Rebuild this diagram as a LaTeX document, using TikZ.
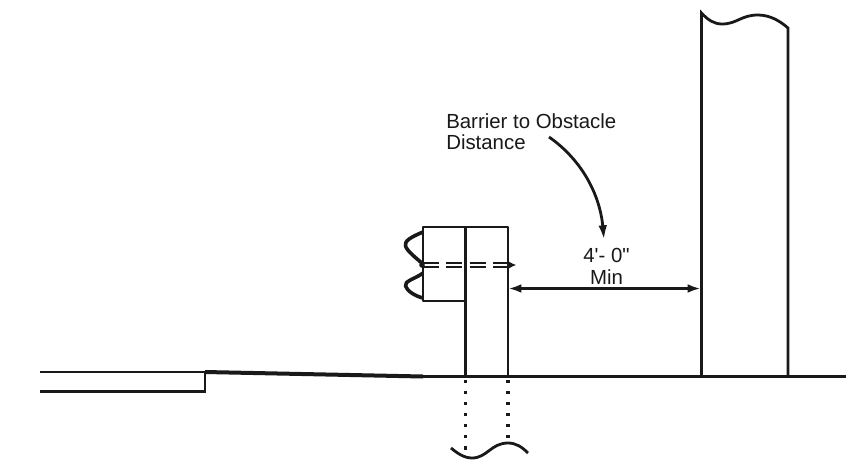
\documentclass[tikz,border=0pt]{standalone}
\usepackage{fontspec}
\newfontfamily\labelfont{Liberation Sans}
\usetikzlibrary{arrows.meta}
\begin{document}
\begin{tikzpicture}[x=0.75pt,y=-0.75pt]
\tikzstyle{line}=[line width=2.1pt,black!90]
\tikzstyle{bumpline}=[line width=2.7pt,black!90,line join=round]
\tikzstyle{slab}=[line width=3pt,black!90]
\tikzstyle{dashpair}=[line width=1.1pt,black!90,dash pattern=on 12pt off 5.5pt]
\tikzstyle{dots}=[line width=2.4pt,black!90,dash pattern=on 2.4pt off 5.96pt]
\tikzstyle{dimen}=[line width=2.1pt,black!90,{Latex[length=10pt,width=6.5pt]}-{Latex[length=10pt,width=6.5pt]}]
\tikzstyle{label}=[inner sep=0pt,font=\labelfont\fontsize{15.3}{16}\selectfont,black!90]
\useasboundingbox (0,0) rectangle (862,468);
\fill[white] (0,0) rectangle (862,468);
% ground and curb
\coordinate (curbtop) at (40,372);
\coordinate (curbedge) at (205,372);
\coordinate (curbfoot) at (205,391.5);
\coordinate (curbbase) at (40,391.5);
\coordinate (slabend) at (423,376.5);
\coordinate (groundend) at (846,376.5);
\draw[line] (curbtop) -- (curbedge);
\draw[line,line join=miter] (curbbase) -- (curbfoot) -- (curbedge);
\draw[slab] (curbedge) -- (slabend);
\draw[line] (slabend) -- (groundend);
% post and signal box
\coordinate (boxtl) at (423,227);
\coordinate (boxbl) at (423,301);
\coordinate (posttl) at (465.7,227);
\coordinate (posttr) at (508,227);
\coordinate (postbl) at (465.7,376.5);
\coordinate (postbr) at (508,376.5);
\coordinate (boxbr) at (465.7,301);
\draw[line,line join=round] (boxbr) -- (boxbl) -- (boxtl) -- (posttr) -- (postbr);
\draw[line] (posttl) -- (postbl);
% lamps
\coordinate (lampa) at (423,232);
\coordinate (lampb) at (423,264);
\coordinate (lampc) at (423,273);
\coordinate (lampd) at (423,298);
\draw[bumpline] (lampa) .. controls (411,237) and (404,241) .. (405.5,246) .. controls (407,251) and (416,258) .. (lampb);
\draw[bumpline] (lampc) .. controls (415,279) and (404,281) .. (405.5,286) .. controls (407,291) and (415,296) .. (lampd);
% bolt
\coordinate (bolta) at (423,263);
\coordinate (boltb) at (510,263);
\coordinate (boltc) at (423,267);
\coordinate (boltd) at (510,267);
\coordinate (boltend) at (422,265);
\coordinate (bolttip) at (516,265);
\draw[dashpair] (bolta) -- (boltb);
\draw[dashpair] (boltc) -- (boltd);
\fill[black!90] (boltend) circle (2.8);
\draw[line width=0.6pt,black!90,-{Latex[length=6pt,width=6pt]}] (508,265) -- (bolttip);
% footing
\coordinate (dota) at (465.7,379.5);
\coordinate (dotb) at (465.7,450);
\coordinate (dotc) at (508,379.5);
\coordinate (dotd) at (508,440);
\draw[dots] (dota) -- (dotb);
\draw[dots] (dotc) -- (dotd);
\coordinate (footl) at (451,448);
\coordinate (footm) at (472,458);
\coordinate (footn) at (508,443);
\coordinate (footr) at (528,453);
\draw[line] (footl) .. controls (457,453) and (464,458) .. (footm) .. controls (487,458) and (491,443) .. (footn) .. controls (516,443) and (522,447) .. (footr);
% obstacle
\coordinate (obsbl) at (701.5,376.5);
\coordinate (obstl) at (701.5,13);
\coordinate (obsm) at (722,24);
\coordinate (obsn) at (758,15);
\coordinate (obstr) at (788,28);
\coordinate (obsbr) at (788,376.5);
\draw[line,line join=miter] (obsbl) -- (obstl) .. controls (708,20) and (714,24) .. (obsm) .. controls (737,24) and (741,15) .. (obsn) .. controls (770,15) and (780,21) .. (obstr) -- (obsbr);
% dimension
\coordinate (dimleft) at (508,288.5);
\coordinate (dimright) at (701,288.5);
\draw[dimen] (dimleft) -- (dimright);
\node[label,align=center] (dist) at (606.5,266.5) {4'- 0"\\[1pt]Min};
\node[label,align=left,anchor=north west] (title) at (446,113.5) {Barrier to Obstacle\\Distance};
\coordinate (leadstart) at (549,137);
\coordinate (leadtip) at (604,240);
\draw[line,-{Latex[length=11pt,width=6.5pt]}] (leadstart) .. controls (582,160) and (600,195) .. (leadtip);
\end{tikzpicture}
\end{document}
